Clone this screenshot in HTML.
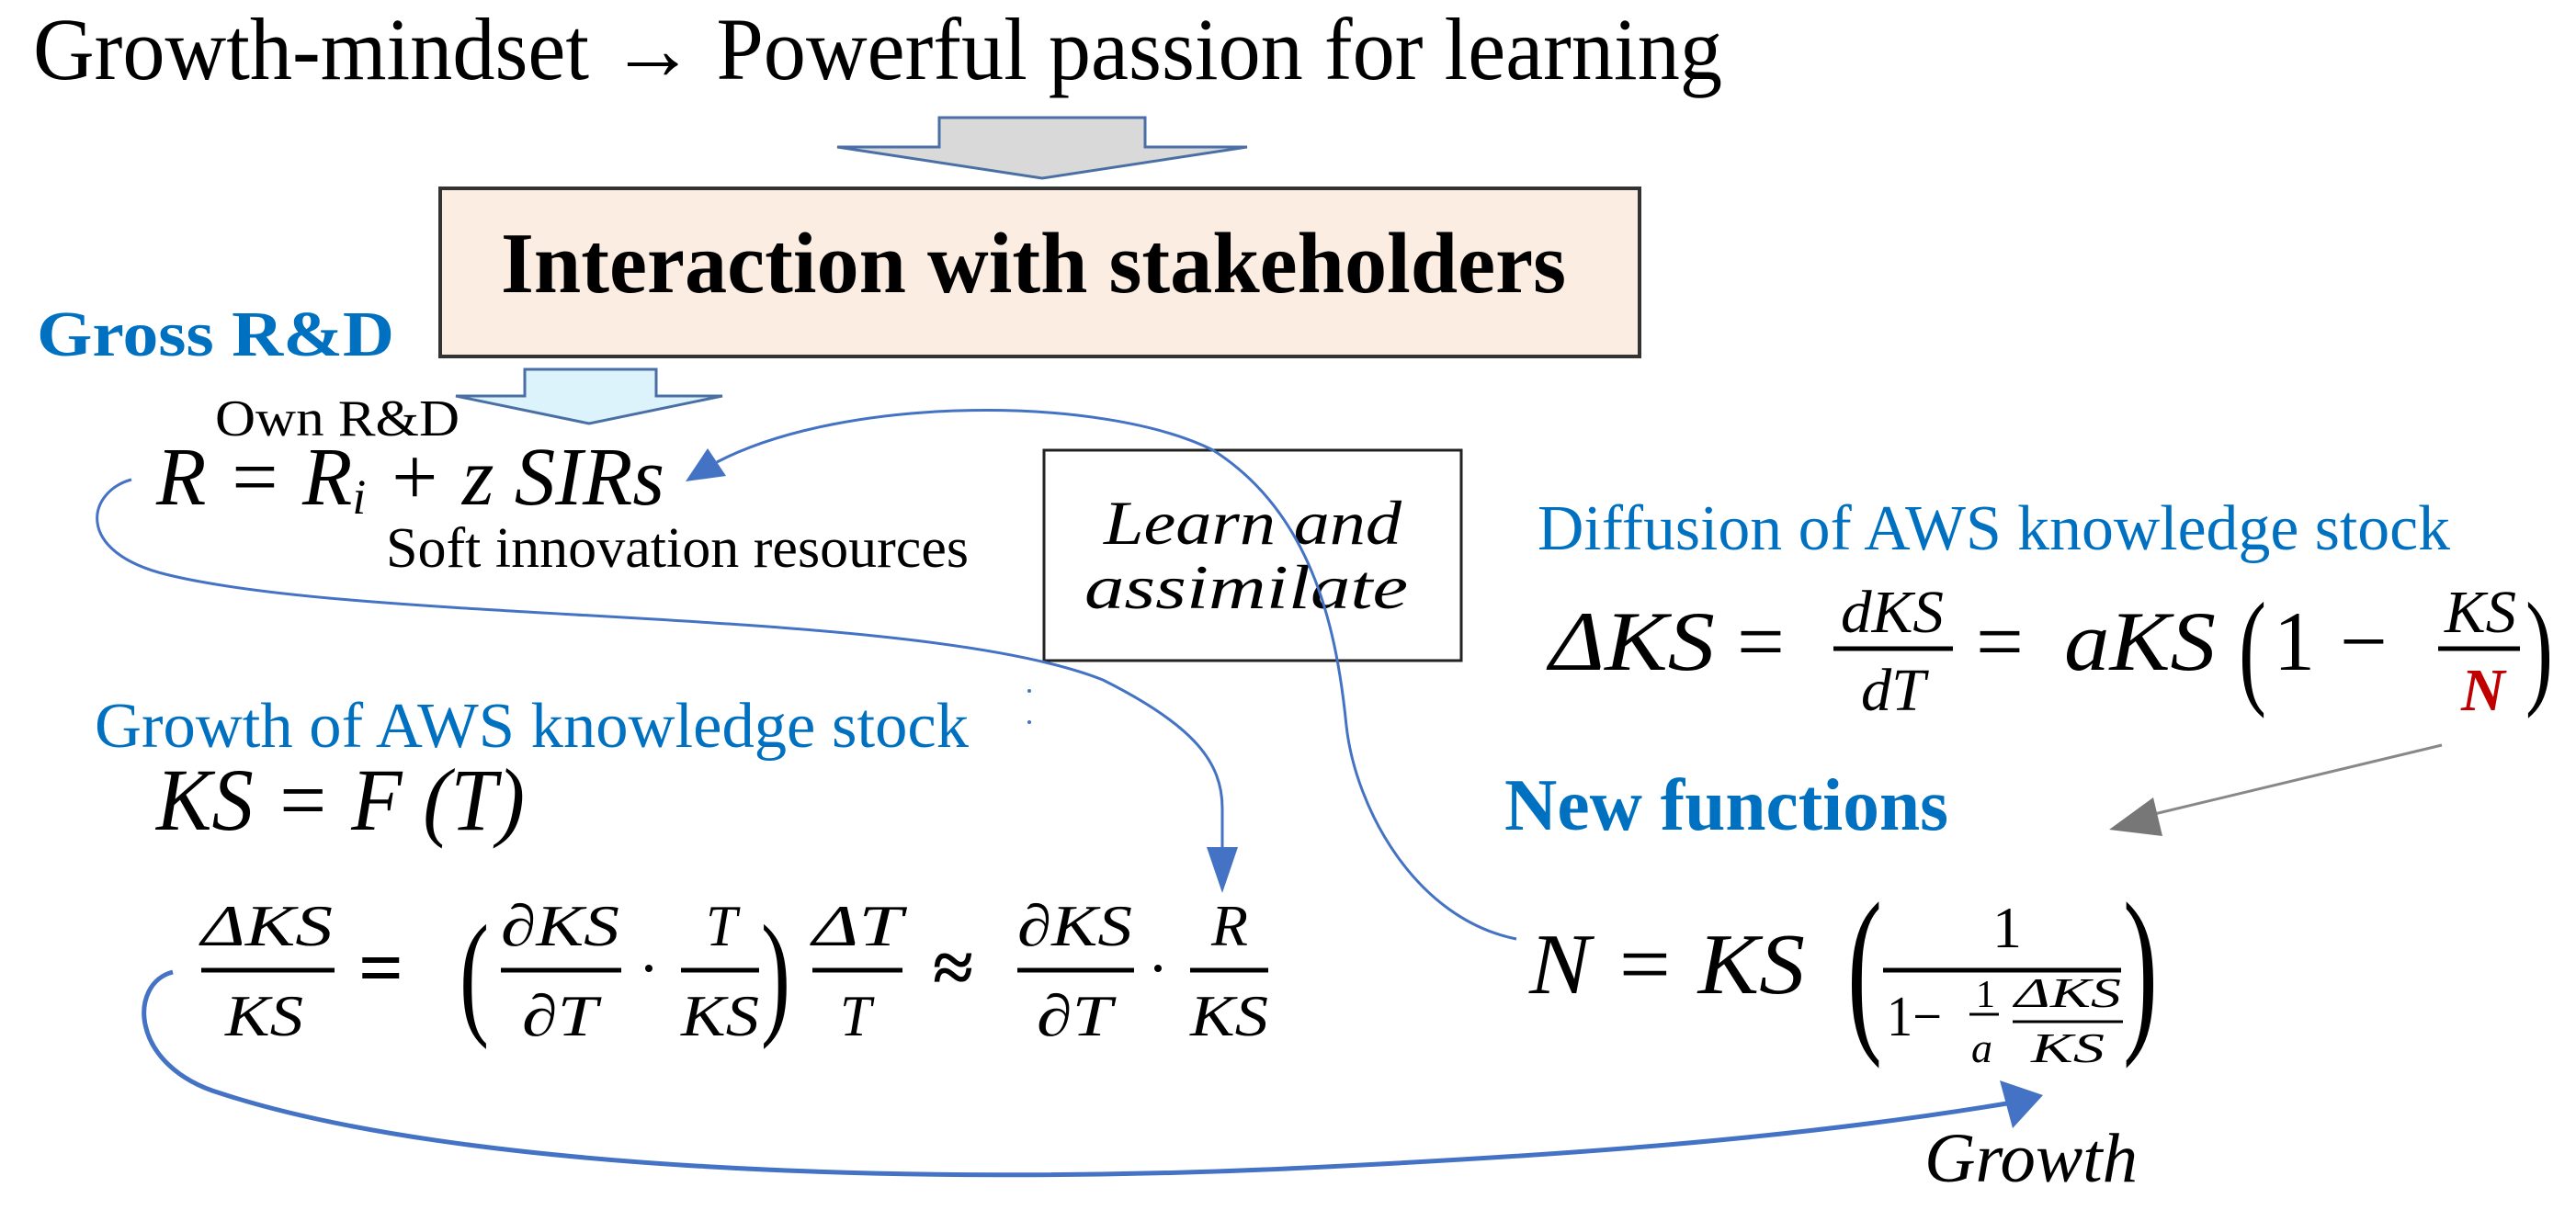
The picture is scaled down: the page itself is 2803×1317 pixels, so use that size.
<!DOCTYPE html>
<html><head><meta charset="utf-8"><style>
html,body{margin:0;padding:0;background:#fff;}
svg{display:block;}
text{font-family:"Liberation Serif",serif;}
.it{font-style:italic;}
.bl{fill:#0070c0;}
</style></head><body>
<svg width="2803" height="1317" viewBox="0 0 2803 1317" xmlns="http://www.w3.org/2000/svg">
<text x="36" y="86" font-size="96" textLength="1838" lengthAdjust="spacingAndGlyphs">Growth-mindset → Powerful passion for learning</text>
<polygon points="1022,128 1246,128 1246,160 1357,160 1134,194 911,160 1022,160" fill="#d9d9d9" stroke="#4a6fa5" stroke-width="3"/>
<rect x="479" y="205" width="1305" height="183" fill="#fbede2" stroke="#333" stroke-width="4"/>
<text x="545" y="318" font-size="94" font-weight="bold" textLength="1159" lengthAdjust="spacingAndGlyphs">Interaction with stakeholders</text>
<text x="40" y="387" font-size="70" font-weight="bold" class="bl" textLength="389" lengthAdjust="spacingAndGlyphs">Gross R&amp;D</text>
<polygon points="571,402 714,402 714,431 786,431 641,461 496,431 571,431" fill="#dcf3fc" stroke="#4a6fa5" stroke-width="3"/>
<text x="234" y="474" font-size="56" textLength="266" lengthAdjust="spacingAndGlyphs">Own R&amp;D</text>
<text x="170" y="549" font-size="90" class="it" textLength="553" lengthAdjust="spacingAndGlyphs">R = R<tspan font-size="54" dy="10">i</tspan><tspan dy="-10"> + z SIRs</tspan></text>
<text x="420" y="617" font-size="62" textLength="634" lengthAdjust="spacingAndGlyphs">Soft innovation resources</text>
<rect x="1136" y="490" width="454" height="229" fill="none" stroke="#222" stroke-width="3"/>
<text x="1201" y="592" font-size="68" class="it" textLength="324" lengthAdjust="spacingAndGlyphs">Learn and</text>
<text x="1180" y="662" font-size="68" class="it" textLength="352" lengthAdjust="spacingAndGlyphs">assimilate</text>
<text x="1673" y="598" font-size="70" class="bl" textLength="993" lengthAdjust="spacingAndGlyphs">Diffusion of AWS knowledge stock</text>
<g class="it" font-size="92">
<text x="1686" y="729" textLength="180" lengthAdjust="spacingAndGlyphs">ΔKS</text>
<text x="1890" y="729" font-style="normal">=</text>
<text x="2003" y="688" font-size="66" textLength="112" lengthAdjust="spacingAndGlyphs">dKS</text>
<line x1="1995" y1="706" x2="2125" y2="706" stroke="#000" stroke-width="5"/>
<text x="2025" y="773" font-size="66" textLength="70" lengthAdjust="spacingAndGlyphs">dT</text>
<text x="2150" y="729" font-style="normal">=</text>
<text x="2246" y="729" textLength="165" lengthAdjust="spacingAndGlyphs">aKS</text>
<text x="2436" y="752" font-style="normal" font-size="140" textLength="30" lengthAdjust="spacingAndGlyphs">(</text>
<text x="2474" y="729" font-style="normal" textLength="45" lengthAdjust="spacingAndGlyphs">1</text>
<text x="2546" y="729" font-style="normal">−</text>
<text x="2660" y="688" font-size="66" textLength="78" lengthAdjust="spacingAndGlyphs">KS</text>
<line x1="2653" y1="706" x2="2742" y2="706" stroke="#000" stroke-width="5"/>
<text x="2678" y="773" font-size="66" font-weight="bold" fill="#c00000">N</text>
<text x="2748" y="752" font-style="normal" font-size="140" textLength="30" lengthAdjust="spacingAndGlyphs">)</text>
</g>
<circle cx="1120" cy="752" r="2" fill="#4472c4"/><circle cx="1120" cy="786" r="2" fill="#4472c4"/>
<text x="103" y="813" font-size="70" class="bl" textLength="951" lengthAdjust="spacingAndGlyphs">Growth of AWS knowledge stock</text>
<text x="170" y="903" font-size="96" class="it" textLength="401" lengthAdjust="spacingAndGlyphs">KS = F (T)</text>
<g class="it" font-size="64">
<text x="219" y="1029" textLength="143" lengthAdjust="spacingAndGlyphs">ΔKS</text>
<line x1="219" y1="1056" x2="364" y2="1056" stroke="#000" stroke-width="5"/>
<text x="245" y="1127" textLength="85" lengthAdjust="spacingAndGlyphs">KS</text>
<text x="390" y="1082" font-size="86" font-style="normal" font-weight="bold">=</text>
<text x="500" y="1110" font-size="150" font-style="normal" textLength="32" lengthAdjust="spacingAndGlyphs">(</text>
<text x="545" y="1029" textLength="129" lengthAdjust="spacingAndGlyphs">∂KS</text>
<line x1="545" y1="1056" x2="676" y2="1056" stroke="#000" stroke-width="5"/>
<text x="568" y="1127" textLength="82" lengthAdjust="spacingAndGlyphs">∂T</text>
<circle cx="706" cy="1054" r="4" fill="#000"/>
<text x="768" y="1029" textLength="34" lengthAdjust="spacingAndGlyphs">T</text>
<line x1="741" y1="1056" x2="826" y2="1056" stroke="#000" stroke-width="5"/>
<text x="741" y="1127" textLength="85" lengthAdjust="spacingAndGlyphs">KS</text>
<text x="828" y="1110" font-size="150" font-style="normal" textLength="32" lengthAdjust="spacingAndGlyphs">)</text>
<text x="884" y="1029" textLength="98" lengthAdjust="spacingAndGlyphs">ΔT</text>
<line x1="884" y1="1056" x2="982" y2="1056" stroke="#000" stroke-width="5"/>
<text x="914" y="1127" textLength="34" lengthAdjust="spacingAndGlyphs">T</text>
<text x="1015" y="1080" font-size="80" font-style="normal" font-weight="bold">≈</text>
<text x="1107" y="1029" textLength="125" lengthAdjust="spacingAndGlyphs">∂KS</text>
<line x1="1107" y1="1056" x2="1234" y2="1056" stroke="#000" stroke-width="5"/>
<text x="1128" y="1127" textLength="82" lengthAdjust="spacingAndGlyphs">∂T</text>
<circle cx="1260" cy="1054" r="4" fill="#000"/>
<text x="1318" y="1029" textLength="40" lengthAdjust="spacingAndGlyphs">R</text>
<line x1="1295" y1="1056" x2="1380" y2="1056" stroke="#000" stroke-width="5"/>
<text x="1295" y="1127" textLength="85" lengthAdjust="spacingAndGlyphs">KS</text>
</g>
<text x="1637" y="903" font-size="80" font-weight="bold" class="bl" textLength="483" lengthAdjust="spacingAndGlyphs">New functions</text>
<g class="it" font-size="94">
<text x="1664" y="1081" textLength="300" lengthAdjust="spacingAndGlyphs">N = KS</text>
<text x="2010" y="1120" font-size="200" font-style="normal" textLength="38" lengthAdjust="spacingAndGlyphs">(</text>
<text x="2168" y="1031" font-size="64" font-style="normal">1</text>
<line x1="2049" y1="1056" x2="2308" y2="1056" stroke="#000" stroke-width="5"/>
<text x="2053" y="1127" font-size="62" font-style="normal" textLength="60" lengthAdjust="spacingAndGlyphs">1−</text>
<text x="2150" y="1096" font-size="42" font-style="normal">1</text>
<line x1="2143" y1="1104" x2="2175" y2="1104" stroke="#000" stroke-width="3"/>
<text x="2145" y="1156" font-size="46">a</text>
<text x="2192" y="1096" font-size="46" textLength="116" lengthAdjust="spacingAndGlyphs">ΔKS</text>
<line x1="2190" y1="1112" x2="2310" y2="1112" stroke="#000" stroke-width="3"/>
<text x="2210" y="1156" font-size="46" textLength="80" lengthAdjust="spacingAndGlyphs">KS</text>
<text x="2310" y="1120" font-size="200" font-style="normal" textLength="38" lengthAdjust="spacingAndGlyphs">)</text>
</g>
<text x="2094" y="1286" font-size="76" class="it" textLength="232" lengthAdjust="spacingAndGlyphs">Growth</text>
<g fill="none" stroke="#4472c4" stroke-width="3">
<path d="M1650,1022 C1540,1000 1475,880 1465,790 C1455,690 1430,560 1320,490 C1200,430 920,430 780,503"/>
<path d="M143,522 C95,535 80,600 180,625 C400,680 1000,660 1200,740 C1300,790 1330,830 1330,880 L1330,930"/>
<path d="M188,1058 C140,1070 140,1160 240,1190 C500,1275 1000,1290 1400,1272 C1700,1258 1950,1240 2190,1200" stroke-width="5"/>
</g>
<polygon points="746,524 790,518 770,488" fill="#4472c4"/>
<polygon points="1330,972 1313,922 1347,922" fill="#4472c4"/>
<polygon points="2223,1192 2176,1176 2190,1228" fill="#4472c4"/>
<line x1="2657" y1="811" x2="2340" y2="887" stroke="#888" stroke-width="3"/>
<polygon points="2295,903 2343,868 2353,910" fill="#777"/>
</svg>
</body></html>
